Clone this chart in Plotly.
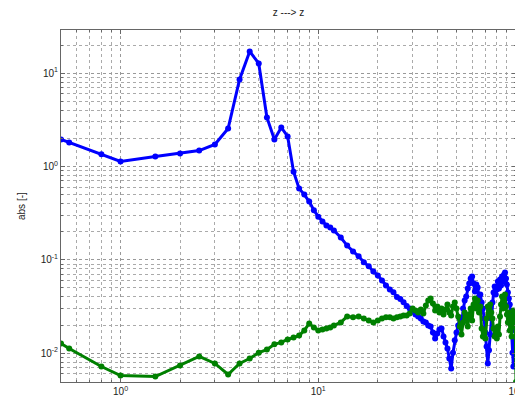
import math
import plotly.graph_objects as go

freq = [0.5, 0.55, 0.8, 1.0, 1.5, 2.0, 2.5, 3.0, 3.5, 4.0, 4.5, 5.0, 5.5, 6.0, 6.5, 7.0, 7.5,
        8.0, 8.5, 9.0, 9.5, 10.0, 10.5, 11.0, 11.5] + list(range(12, 101))

blue_vals = [1.95, 1.81, 1.35, 1.13, 1.28, 1.38, 1.48, 1.72, 2.55, 8.56, 17.1, 12.7, 3.35, 1.95,
             2.62, 2.10, 0.88, 0.58, 0.50, 0.42, 0.34, 0.29, 0.257, 0.233, 0.222,
             # 12 .. 30
             0.206, 0.173, 0.142, 0.123, 0.109, 0.094, 0.085, 0.075, 0.068, 0.060,
             0.053, 0.048, 0.045, 0.040, 0.038, 0.035, 0.032, 0.030, 0.028,
             # 31 .. 100
             0.0259, 0.0247, 0.0235, 0.0218, 0.0213, 0.0198, 0.0193, 0.0166, 0.0143, 0.0162,
             0.0179, 0.0184, 0.0151, 0.0130, 0.0112, 0.00875, 0.00684, 0.0101, 0.0137, 0.0166,
             0.0198, 0.0235, 0.0213, 0.0301, 0.0366, 0.0404, 0.0492, 0.0557, 0.0631, 0.0662,
             0.0557, 0.0457, 0.0543, 0.0505, 0.0404, 0.0425, 0.0348, 0.0301, 0.0235, 0.0166,
             0.0118, 0.00774, 0.0107, 0.0158, 0.0235, 0.0348, 0.0447, 0.0518, 0.0425, 0.0481,
             0.0585, 0.0492, 0.0615, 0.0531, 0.0662, 0.0585, 0.0696, 0.0731, 0.0631, 0.0543,
             0.0447, 0.0385, 0.0332, 0.0253, 0.0175, 0.0101, 0.00718, 0.0107, 0.0143, 0.0121]

green_vals = [0.0127, 0.0112, 0.00718, 0.00575, 0.00561, 0.00737, 0.0092, 0.00774, 0.0059,
              0.00774, 0.00875, 0.0101, 0.0109, 0.0124, 0.0130, 0.0140, 0.0147, 0.0154,
              0.0175, 0.0208, 0.0188, 0.0175, 0.0179, 0.0184, 0.0188,
              # 12 .. 30
              0.0198, 0.0213, 0.0247, 0.0242, 0.0247, 0.0235, 0.0224, 0.0213, 0.0224, 0.0235,
              0.0242, 0.0242, 0.0235, 0.0242, 0.0247, 0.0253, 0.0253, 0.0266, 0.0301,
              # 31 .. 100
              0.0286, 0.0272, 0.0293, 0.0266, 0.0324, 0.0366, 0.0385, 0.0340, 0.0286, 0.0316,
              0.0272, 0.0301, 0.0259, 0.0293, 0.0332, 0.0272, 0.0253, 0.0316, 0.0348, 0.0301,
              0.0247, 0.0193, 0.0158, 0.0213, 0.0272, 0.0235, 0.0193, 0.0259, 0.0301, 0.0224,
              0.0332, 0.0385, 0.0301, 0.0366, 0.0272, 0.0316, 0.0184, 0.0151, 0.0175, 0.0143,
              0.0235, 0.0316, 0.0259, 0.0332, 0.0272, 0.0235, 0.0184, 0.0151, 0.0175, 0.0143,
              0.0193, 0.0158, 0.0247, 0.0332, 0.0404, 0.0301, 0.0366, 0.0425, 0.0316, 0.0259,
              0.0213, 0.0272, 0.0175, 0.0247, 0.0151, 0.0224, 0.0286, 0.0193, 0.0235, 0.0049]

x_tickvals = [1, 10, 100]
x_ticktext = ["10<sup>0</sup>", "10<sup>1</sup>", "10<sup>2</sup>"]
y_tickvals = [0.01, 0.1, 1, 10]
y_ticktext = ["10<sup>-2</sup>", "10<sup>-1</sup>", "10<sup>0</sup>", "10<sup>1</sup>"]

title_text = "z ---> z"
ylabel_text = "abs [-]"

x_minor = [m * 10 ** e for e in (-1, 0, 1) for m in range(2, 10)]
y_minor = [m * 10 ** e for e in (-3, -2, -1, 0, 1) for m in range(2, 10)]

FONT = "Liberation Sans, Arial, sans-serif"

fig = go.Figure()
fig.add_trace(go.Scatter(x=freq, y=blue_vals, mode="lines+markers",
                         line=dict(color="#0000ff", width=3),
                         marker=dict(color="#0000ff", size=6), showlegend=False))
fig.add_trace(go.Scatter(x=freq, y=green_vals, mode="lines+markers",
                         line=dict(color="#008000", width=3),
                         marker=dict(color="#008000", size=6), showlegend=False))

axis_common = dict(
    type="log", showline=True, linecolor="#666", linewidth=1, mirror="allticks",
    ticks="inside", ticklen=4, tickcolor="#666",
    showgrid=True, gridcolor="#999", griddash="dot", gridwidth=1,
    tickfont=dict(family=FONT, size=10, color="#222"),
    zeroline=False, automargin=False, ticklabeloverflow="allow",
)

# page body adds an 8px offset; figure sized to fit inside the window
fig.update_layout(
    width=515, height=394,
    margin=dict(l=53, r=7, t=22, b=20),
    paper_bgcolor="white", plot_bgcolor="white",
    title=dict(text=title_text, x=0.5, xref="paper", xanchor="center",
               y=1 - 4 / 394, yref="container", yanchor="middle",
               font=dict(family=FONT, size=10, color="#222")),
    xaxis=dict(axis_common, range=[math.log10(0.5), 2], tickmode="array",
               tickvals=x_tickvals, ticktext=x_ticktext,
               minor=dict(tickmode="array", tickvals=x_minor, ticks="inside", ticklen=2,
                          tickcolor="#666", showgrid=True, gridcolor="#aaa", griddash="dot")),
    yaxis=dict(axis_common, range=[math.log10(0.0049), math.log10(29)], tickmode="array",
               tickvals=y_tickvals, ticktext=y_ticktext,
               minor=dict(tickmode="array", tickvals=y_minor, ticks="inside", ticklen=2,
                          tickcolor="#666", showgrid=True, gridcolor="#aaa", griddash="dot")),
    annotations=[dict(text=ylabel_text, xref="paper", yref="paper", x=0, y=0.5,
                      xshift=-40, textangle=-90, showarrow=False,
                      xanchor="center", yanchor="middle",
                      font=dict(family=FONT, size=10, color="#222"))],
)

fig.write_html("out.html")
